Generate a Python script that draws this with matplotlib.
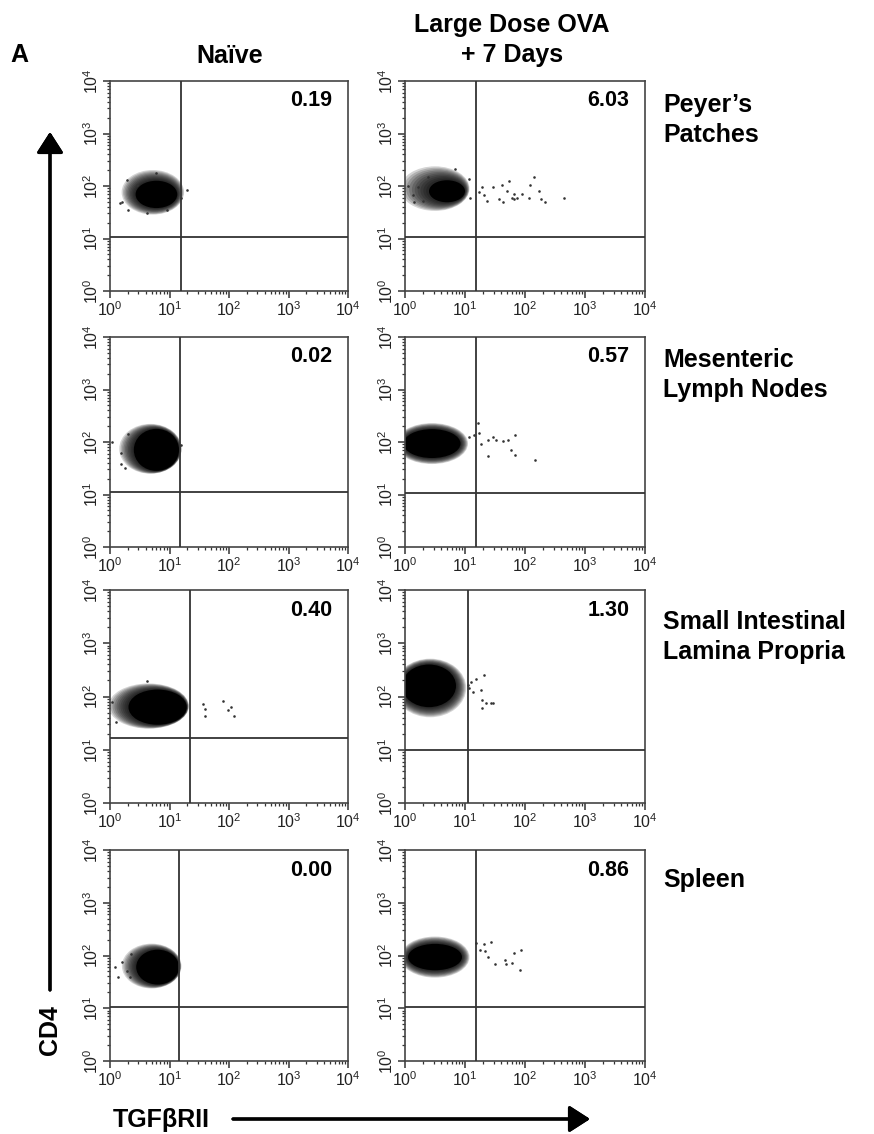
import matplotlib
matplotlib.use('Agg')
import numpy as np
import matplotlib.pyplot as plt
from matplotlib.patches import Ellipse

plt.rcParams['font.family'] = ['Liberation Sans', 'DejaVu Sans']

# panels in reading order: rows = tissue, cols = Naive / Large Dose OVA
col_titles = ['Naïve', 'Large Dose OVA\n+ 7 Days']
row_labels = ['Peyer\u2019s\nPatches', 'Mesenteric\nLymph Nodes',
              'Small Intestinal\nLamina Propria', 'Spleen']
pct = ['0.19', '6.03', '0.02', '0.57', '0.40', '1.30', '0.00', '0.86']

# quadrant gates (log10 units)
gate_x = [1.19, 1.19, 1.18, 1.19, 1.35, 1.05, 1.16, 1.18]
gate_y = [1.03, 1.03, 1.04, 1.02, 1.22, 0.99, 1.02, 1.02]

# dense part of each cell cloud (centre, full width/height, log10 units)
core_cx = [0.78, 0.70, 0.78, 0.45, 0.80, 0.40, 0.80, 0.50]
core_cy = [1.84, 1.90, 1.85, 1.97, 1.80, 2.20, 1.78, 1.97]
core_w = [0.70, 0.60, 0.76, 0.95, 0.98, 0.90, 0.72, 0.90]
core_h = [0.52, 0.42, 0.80, 0.55, 0.66, 0.80, 0.66, 0.50]
# looser outer part of each cloud
halo_cx = [0.72, 0.50, 0.68, 0.45, 0.65, 0.42, 0.70, 0.50]
halo_cy = [1.88, 1.95, 1.87, 1.97, 1.82, 2.16, 1.80, 1.97]
halo_w = [1.05, 1.15, 1.05, 1.20, 1.35, 1.20, 1.00, 1.15]
halo_h = [0.85, 0.85, 0.95, 0.78, 0.85, 1.10, 0.85, 0.78]

# scattered single events (log10 TGFbRII, log10 CD4)
sparse_x = [
    [0.28, 0.31, 0.78, 1.20, 1.29, 0.45, 0.20, 0.95, 0.62, 0.17],
    [0.05, 0.13, 0.21, 0.30, 0.15, 0.39, 0.84, 1.06, 1.08,
     1.31, 1.47, 1.61, 1.70, 1.73, 1.81, 1.78, 1.87, 1.95, 2.06, 2.09, 2.15,
     2.23, 2.26, 2.34, 1.64, 1.81, 2.65, 1.36, 1.24, 1.56, 1.28],
    [0.04, 0.18, 0.18, 1.20, 0.30, 0.25],
    [1.21, 1.15, 1.24, 1.27, 1.38, 1.46, 1.52, 1.63, 1.72, 1.83, 1.77, 1.83,
     1.38, 2.17, 1.07],
    [0.63, 1.56, 1.59, 1.59, 1.90, 1.98, 2.04, 2.09, 0.04, 0.10],
    [1.18, 1.32, 1.27, 1.29, 1.35, 1.46, 1.29, 1.07, 1.13, 1.05, 1.10, 1.43],
    [0.08, 0.14, 0.28, 0.20, 0.36, 0.34],
    [1.19, 1.31, 1.44, 1.33, 1.39, 1.50, 1.67, 1.69, 1.78, 1.82, 1.93, 1.91,
     1.25],
]
sparse_y = [
    [2.11, 1.54, 2.24, 1.77, 1.92, 2.02, 1.70, 1.54, 1.48, 1.68],
    [2.00, 1.82, 1.98, 1.72, 1.69, 2.17, 2.32, 2.13, 1.78,
     1.82, 1.98, 2.01, 1.91, 2.10, 1.85, 1.78, 1.78, 1.85, 1.78, 2.01, 2.17,
     1.91, 1.75, 1.69, 1.69, 1.75, 1.78, 1.72, 1.88, 1.75, 1.98],
    [2.00, 1.79, 1.58, 1.95, 2.15, 1.50],
    [2.37, 2.13, 2.17, 1.97, 2.04, 2.10, 2.04, 2.01, 2.04, 2.13, 1.85, 1.75,
     1.73, 1.66, 2.10],
    [2.30, 1.86, 1.77, 1.64, 1.92, 1.74, 1.80, 1.64, 1.89, 1.52],
    [2.32, 2.41, 2.13, 1.94, 1.87, 1.87, 1.78, 2.16, 2.09, 2.22, 2.28, 1.87],
    [1.78, 1.59, 1.71, 1.87, 2.03, 1.59],
    [2.24, 2.21, 2.25, 2.08, 1.98, 1.83, 1.91, 1.83, 1.86, 2.04, 2.10, 1.72,
     2.11],
]

decades = [0, 1, 2, 3, 4]
tick_labels = [r'$\mathregular{10^{%d}}$' % d for d in decades]

W, H = 874, 1134
col_left = [110, 405]
col_w = [238, 240]
row_top = [81, 337, 590, 850]
row_h = [210, 210, 213, 211]

fig = plt.figure(figsize=(W / 100, H / 100), dpi=100)

minor = [d + np.log10(m) for d in decades[:-1] for m in range(2, 10)]
n_layers = 10

for i in range(8):
    r, c = divmod(i, 2)
    ax = fig.add_axes([col_left[c] / W, 1 - (row_top[r] + row_h[r]) / H,
                       col_w[c] / W, row_h[r] / H])
    ax.set_xlim(0, 4)
    ax.set_ylim(0, 4)

    # cloud: stacked translucent layers fading outwards, then solid core
    for k in range(n_layers):
        t = k / n_layers
        cx = halo_cx[i] + t * (core_cx[i] - halo_cx[i])
        cy = halo_cy[i] + t * (core_cy[i] - halo_cy[i])
        w = halo_w[i] + t * (core_w[i] - halo_w[i])
        h = halo_h[i] + t * (core_h[i] - halo_h[i])
        ax.add_patch(Ellipse((cx, cy), w, h, facecolor='black', alpha=0.17,
                             edgecolor='none', zorder=1))
    ax.add_patch(Ellipse((core_cx[i], core_cy[i]), core_w[i], core_h[i],
                         facecolor='black', edgecolor='none', zorder=2))
    ax.scatter(sparse_x[i], sparse_y[i], s=3.5, c='#333333', linewidths=0,
               zorder=3)

    ax.axvline(gate_x[i], color='#333333', lw=1.3, zorder=4)
    ax.axhline(gate_y[i], color='#333333', lw=1.3, zorder=4)

    ax.text(0.935, 0.905, pct[i], transform=ax.transAxes, ha='right',
            va='center', fontsize=15.5, fontweight='bold')

    ax.set_xticks(decades)
    ax.set_yticks(decades)
    ax.set_xticks(minor, minor=True)
    ax.set_yticks(minor, minor=True)
    ax.set_xticklabels(tick_labels, fontsize=11.5, color='#222222')
    ax.set_yticklabels(tick_labels, fontsize=11.5, color='#222222',
                       rotation=90, va='center')
    ax.tick_params(which='major', direction='out', length=5, width=1.1,
                   color='#333333', pad=1.5)
    ax.tick_params(which='minor', direction='out', length=2.5, width=0.9,
                   color='#333333')
    for s in ax.spines.values():
        s.set_color('#444444')
        s.set_linewidth(1.2)

# column titles
fig.text(230 / W, 1 - 56 / H, col_titles[0], ha='center', va='center',
         fontsize=18, fontweight='bold')
fig.text(512 / W, 1 - 40 / H, col_titles[1], ha='center', va='center',
         fontsize=18, fontweight='bold', linespacing=1.3)
fig.text(10 / W, 1 - 55 / H, 'A', ha='left', va='center', fontsize=18,
         fontweight='bold')

# row labels
row_y = [120, 375, 637, 880]
for lab, y in zip(row_labels, row_y):
    fig.text(663 / W, 1 - y / H, lab, ha='left', va='center', fontsize=18,
             fontweight='bold', linespacing=1.3)

# axis names with arrows
fig.text(50 / W, 1 - 1030 / H, 'CD4', rotation=90, ha='center', va='center',
         fontsize=18, fontweight='bold')
fig.text(113 / W, 1 - 1120 / H, 'TGF\u03b2RII', ha='left', va='center',
         fontsize=18, fontweight='bold')
arrow = dict(arrowstyle='-|>,head_width=0.45,head_length=0.7', lw=2.3,
             color='black', mutation_scale=18, shrinkA=0, shrinkB=0)
fig.add_artist(plt.annotate('', xy=(50 / W, 1 - 132 / H),
                            xytext=(50 / W, 1 - 990 / H),
                            xycoords='figure fraction',
                            textcoords='figure fraction', arrowprops=arrow))
fig.add_artist(plt.annotate('', xy=(590 / W, 1 - 1119 / H),
                            xytext=(233 / W, 1 - 1119 / H),
                            xycoords='figure fraction',
                            textcoords='figure fraction', arrowprops=arrow))

fig.savefig('out.png', dpi=100)
